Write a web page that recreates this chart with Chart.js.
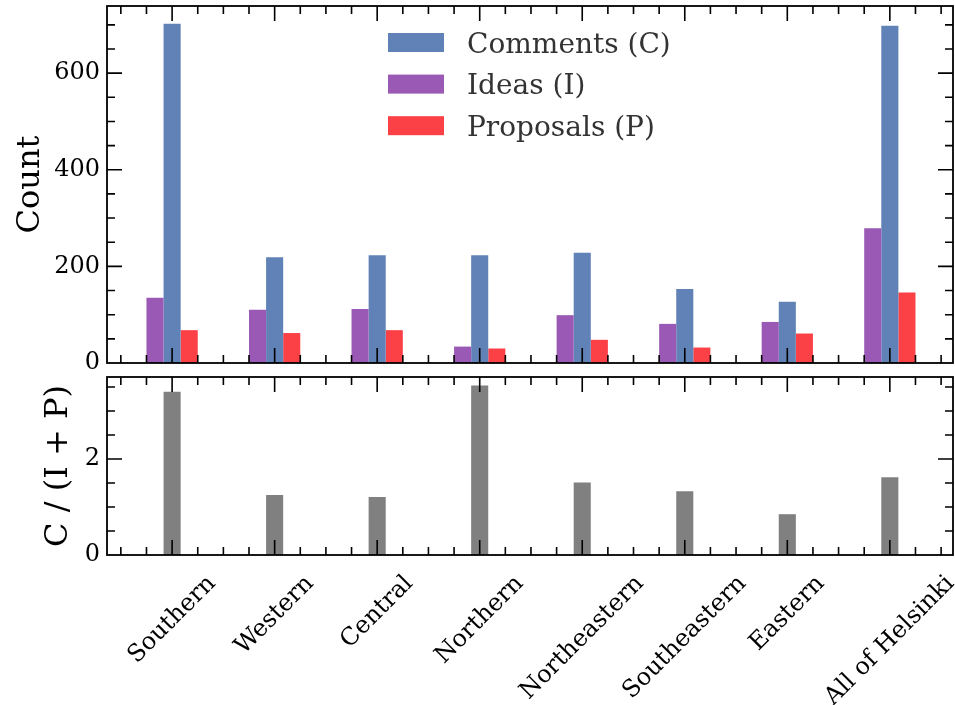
<!DOCTYPE html>
<html>
<head>
<meta charset="utf-8">
<script src="https://cdn.jsdelivr.net/npm/chart.js@4.4.1/dist/chart.umd.min.js"></script>
<style>
  html, body { margin: 0; padding: 0; background: #fff; }
  #wrap { position: relative; width: 955px; height: 705px; }
  canvas { position: absolute; left: 0; }
  #countChart { top: 0; }
  #ratioChart { top: 372px; }
</style>
</head>
<body>
<div id="wrap">
  <canvas id="countChart" width="955" height="372"></canvas>
  <canvas id="ratioChart" width="955" height="333"></canvas>
</div>
<script>
// Participation per Helsinki district
const districts = ['Southern', 'Western', 'Central', 'Northern', 'Northeastern', 'Southeastern', 'Eastern', 'All of Helsinki'];
const ideas     = [135, 110, 112, 34, 99, 81, 85, 279];
const comments  = [702, 219, 223, 223, 228, 153, 127, 698];
const proposals = [68, 62, 68, 30, 48, 32, 61, 146];
// Comments relative to ideas + proposals
const ratio     = [3.40, 1.25, 1.21, 3.53, 1.51, 1.33, 0.85, 1.62];

const countTicks = [0, 200, 400, 600];
const ratioTicks = [0, 2];
const districtTicks = districts.map((_, i) => i);

const FONT = 'DejaVu Serif';
const COLORS = { ideas: '#9b59b6', comments: '#6082b6', proposals: '#fb4046', ratio: '#808080' };

const points = arr => arr.map((v, i) => ({ x: i, y: v }));

// Box frame with inward major/minor ticks on all four sides
const frameTicks = {
  id: 'frameTicks',
  afterDraw(chart, args, o) {
    const { ctx, chartArea: a, scales: { x, y } } = chart;
    ctx.save();
    ctx.strokeStyle = '#000';
    ctx.lineWidth = 1.6;
    ctx.beginPath();
    const tx = (v, len) => {
      const p = x.getPixelForValue(v);
      if (p < a.left + 1 || p > a.right - 1) return;
      ctx.moveTo(p, a.bottom); ctx.lineTo(p, a.bottom - len);
      ctx.moveTo(p, a.top); ctx.lineTo(p, a.top + len);
    };
    const ty = (v, len) => {
      const p = y.getPixelForValue(v);
      if (p < a.top + 1 || p > a.bottom - 1) return;
      ctx.moveTo(a.left, p); ctx.lineTo(a.left + len, p);
      ctx.moveTo(a.right, p); ctx.lineTo(a.right - len, p);
    };
    for (let k = Math.ceil(x.min / o.xMinor); k * o.xMinor <= x.max; k++) {
      const v = k * o.xMinor;
      tx(v, Math.abs(v - Math.round(v)) < 1e-9 ? o.major : o.minor);
    }
    for (let k = Math.ceil(y.min / o.yMinor); k * o.yMinor <= y.max; k++) {
      const v = k * o.yMinor;
      const isMajor = o.yMajor.some(m => Math.abs(m - v) < 1e-9);
      ty(v, isMajor ? o.major : o.minor);
    }
    ctx.stroke();
    ctx.lineWidth = 1.8;
    ctx.strokeRect(a.left, a.top, a.right - a.left, a.bottom - a.top);
    ctx.restore();
  }
};

// Legend inside the plot, one entry per row
const legendRows = {
  id: 'legendRows',
  afterDraw(chart, args, o) {
    if (!o.order) return;
    const ctx = chart.ctx;
    ctx.save();
    ctx.font = `28px "${FONT}"`;
    ctx.textBaseline = 'alphabetic';
    ctx.textAlign = 'left';
    o.order.forEach((label, i) => {
      const ds = chart.data.datasets.find(d => d.label === label);
      const cy = o.y + i * o.gap;
      ctx.fillStyle = ds.backgroundColor;
      ctx.fillRect(o.x, cy - 9.5, 56, 19);
      ctx.fillStyle = '#333';
      ctx.fillText(label, o.x + 79, cy + 10);
    });
    ctx.restore();
  }
};

// District names under the lower panel, rotated 45 degrees and centred on their ticks
const slantLabels = {
  id: 'slantLabels',
  afterDraw(chart, args, o) {
    if (!o.labels) return;
    const { ctx, chartArea: a, scales: { x } } = chart;
    ctx.save();
    ctx.font = `24px "${FONT}"`;
    ctx.fillStyle = '#000';
    ctx.textAlign = 'center';
    ctx.textBaseline = 'middle';
    const h = 28;
    o.labels.forEach((t, i) => {
      const w = ctx.measureText(t).width;
      const cx = x.getPixelForValue(i);
      const cy = a.bottom + o.pad + (w + h) / (2 * Math.SQRT2);
      ctx.save();
      ctx.translate(cx, cy);
      ctx.rotate(-Math.PI / 4);
      ctx.fillText(t, 0, 0);
      ctx.restore();
    });
    ctx.restore();
  }
};

const xScale = () => ({
  type: 'linear',
  min: -0.635,
  max: 7.616,
  offset: false,
  afterBuildTicks: s => { s.ticks = districtTicks.map(v => ({ value: v })); },
  afterFit: s => { s.height = 0; s.paddingLeft = 0; s.paddingRight = 0; s.paddingTop = 0; s.paddingBottom = 0; },
  ticks: { display: false },
  grid: { display: false, drawTicks: false },
  border: { display: false }
});

const yScale = (max, tickVals, title, titlePad) => ({
  min: 0,
  max: max,
  afterBuildTicks: s => { s.ticks = tickVals.map(v => ({ value: v })); },
  afterFit: s => { s.width = 107; s.paddingTop = 0; s.paddingBottom = 0; s.paddingLeft = 0; s.paddingRight = 0; },
  grid: { display: false, drawTicks: false },
  border: { display: false },
  ticks: { font: { family: FONT, size: 24 }, color: '#000', padding: 7 },
  title: { display: true, text: title, color: '#000', font: { family: FONT, size: 32 }, padding: { top: titlePad, bottom: 0 } }
});

const common = {
  responsive: false,
  animation: false,
  devicePixelRatio: 1,
  events: [],
};

new Chart(document.getElementById('countChart'), {
  type: 'bar',
  data: {
    datasets: [
      { label: 'Ideas (I)', data: points(ideas), backgroundColor: COLORS.ideas },
      { label: 'Comments (C)', data: points(comments), backgroundColor: COLORS.comments },
      { label: 'Proposals (P)', data: points(proposals), backgroundColor: COLORS.proposals }
    ]
  },
  options: {
    ...common,
    layout: { padding: { left: 0, right: 2, top: 6, bottom: 9 } },
    datasets: { bar: { categoryPercentage: 0.5, barPercentage: 1, borderWidth: 0 } },
    scales: { x: xScale(), y: yScale(739, countTicks, 'Count', 11) },
    plugins: {
      legend: { display: false },
      tooltip: { enabled: false },
      frameTicks: { xMinor: 0.25, yMinor: 50, yMajor: countTicks, major: 15, minor: 8 },
      legendRows: { order: ['Comments (C)', 'Ideas (I)', 'Proposals (P)'], x: 388, y: 42.5, gap: 41.6 }
    }
  },
  plugins: [frameTicks, legendRows]
});

new Chart(document.getElementById('ratioChart'), {
  type: 'bar',
  data: {
    datasets: [
      { label: 'C / (I + P)', data: points(ratio), backgroundColor: COLORS.ratio }
    ]
  },
  options: {
    ...common,
    layout: { padding: { left: 0, right: 2, top: 5, bottom: 150 } },
    datasets: { bar: { categoryPercentage: 1 / 6, barPercentage: 1, borderWidth: 0 } },
    scales: { x: xScale(), y: yScale(3.708, ratioTicks, 'C / (I + P)', 39) },
    plugins: {
      legend: { display: false },
      tooltip: { enabled: false },
      frameTicks: { xMinor: 0.25, yMinor: 0.5, yMajor: ratioTicks, major: 15, minor: 8 },
      slantLabels: { labels: districts, pad: 15 }
    }
  },
  plugins: [frameTicks, slantLabels]
});
</script>
</body>
</html>
